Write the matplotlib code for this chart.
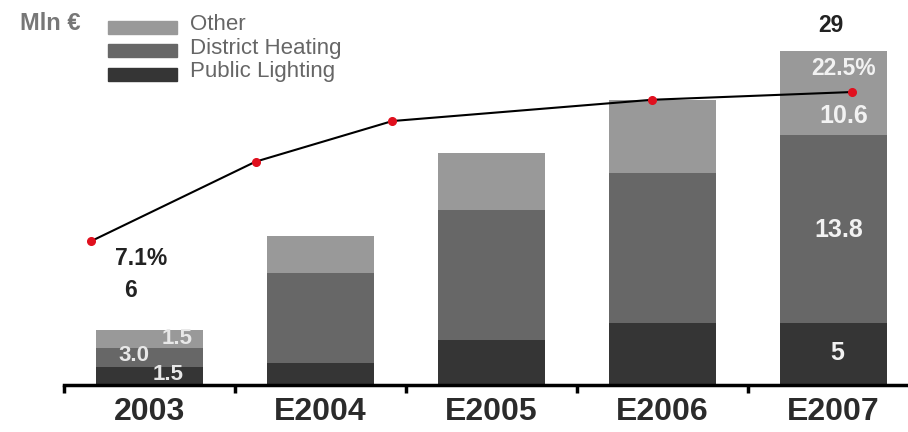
import matplotlib
matplotlib.use("Agg")
import matplotlib.pyplot as plt
from matplotlib.patches import Rectangle

# data (Mln €)
years = ["2003", "E2004", "E2005", "E2006", "E2007"]
public_lighting = [1.6, 1.9, 3.9, 5.4, 5.4]
district_heating = [1.6, 7.8, 11.3, 13.0, 16.3]
other = [1.6, 3.2, 4.9, 6.3, 7.3]
# margin line (%), drawn on its own scale
margin_x = [-0.34, 0.62, 1.42, 2.94, 4.11]
margin_pct = [7.1, 15.3, 19.5, 21.7, 22.5]

series = ["Other", "District Heating", "Public Lighting"]
colors = {"Other": "#999999", "District Heating": "#676767", "Public Lighting": "#353535"}

W, H = 908, 432
fig = plt.figure(figsize=(W / 100, H / 100), dpi=100)
ax = fig.add_axes([64 / W, 47 / H, 844 / W, 385 / H])

x = list(range(len(years)))
bw = 0.625
ax.bar(x, public_lighting, bw, color=colors["Public Lighting"], linewidth=0)
ax.bar(x, district_heating, bw, bottom=public_lighting, color=colors["District Heating"], linewidth=0)
base2 = [a + b for a, b in zip(public_lighting, district_heating)]
ax.bar(x, other, bw, bottom=base2, color=colors["Other"], linewidth=0)

ax.set_xlim(-0.5, -0.5 + 844 / 171)
ax.set_ylim(0, 33.4)
for s in ["top", "left", "right"]:
    ax.spines[s].set_visible(False)
ax.spines["bottom"].set_linewidth(2.5)
ax.set_yticks([])
ax.set_xticks(x)
ax.set_xticklabels(years, fontfamily="Liberation Sans", fontweight="bold",
                   fontsize=23, color="#2b2b2b")
ax.tick_params(axis="x", which="major", length=0, pad=9)
ax.set_xticks([i - 0.5 for i in x], minor=True)
ax.tick_params(axis="x", which="minor", length=6, width=2.5, direction="out")

# value labels
bold = dict(fontfamily="Liberation Sans", fontweight="bold", ha="center", va="center")
ax.text(-0.11, 8.16, "6", fontsize=16.5, color="#222222", **bold)
ax.text(-0.05, 11.0, "7.1%", fontsize=16.5, color="#222222", **bold)
ax.text(0.16, 4.0, "1.5", fontsize=16, color="#e8e8e8", **bold)
ax.text(-0.09, 2.6, "3.0", fontsize=16, color="#e8e8e8", **bold)
ax.text(0.11, 0.87, "1.5", fontsize=16, color="#e8e8e8", **bold)
ax.text(3.985, 31.2, "29", fontsize=16.5, color="#222222", **bold)
ax.text(4.06, 27.5, "22.5%", fontsize=16.5, color="#f2f2f2", **bold)
ax.text(4.06, 23.35, "10.6", fontsize=18, color="#f2f2f2", **bold)
ax.text(4.03, 13.45, "13.8", fontsize=18, color="#f2f2f2", **bold)
ax.text(4.02, 2.78, "5", fontsize=18, color="#f2f2f2", **bold)

# margin line
ax2 = ax.twinx()
ax2.set_ylim(-7.78, 32.01)
ax2.axis("off")
ax2.plot(margin_x, margin_pct, color="black", lw=1.5, marker="o", ms=5.5,
         mfc="#e0101e", mec="#e0101e")

# legend
fig.text(50 / W, 1 - 23 / H, "Mln €", fontfamily="Liberation Sans", fontweight="bold",
         fontsize=17, color="#777777", ha="center", va="center")
for i, name in enumerate(series):
    yc = 27 + i * 23.5
    fig.patches.append(Rectangle((108 / W, 1 - (yc + 6.5) / H), 69 / W, 13 / H,
                                 transform=fig.transFigure, color=colors[name]))
    fig.text(190 / W, 1 - (yc - 2) / H, name, fontfamily="Liberation Sans",
             fontsize=16, color="#666666", ha="left", va="center")

fig.savefig("out.png", dpi=100)
